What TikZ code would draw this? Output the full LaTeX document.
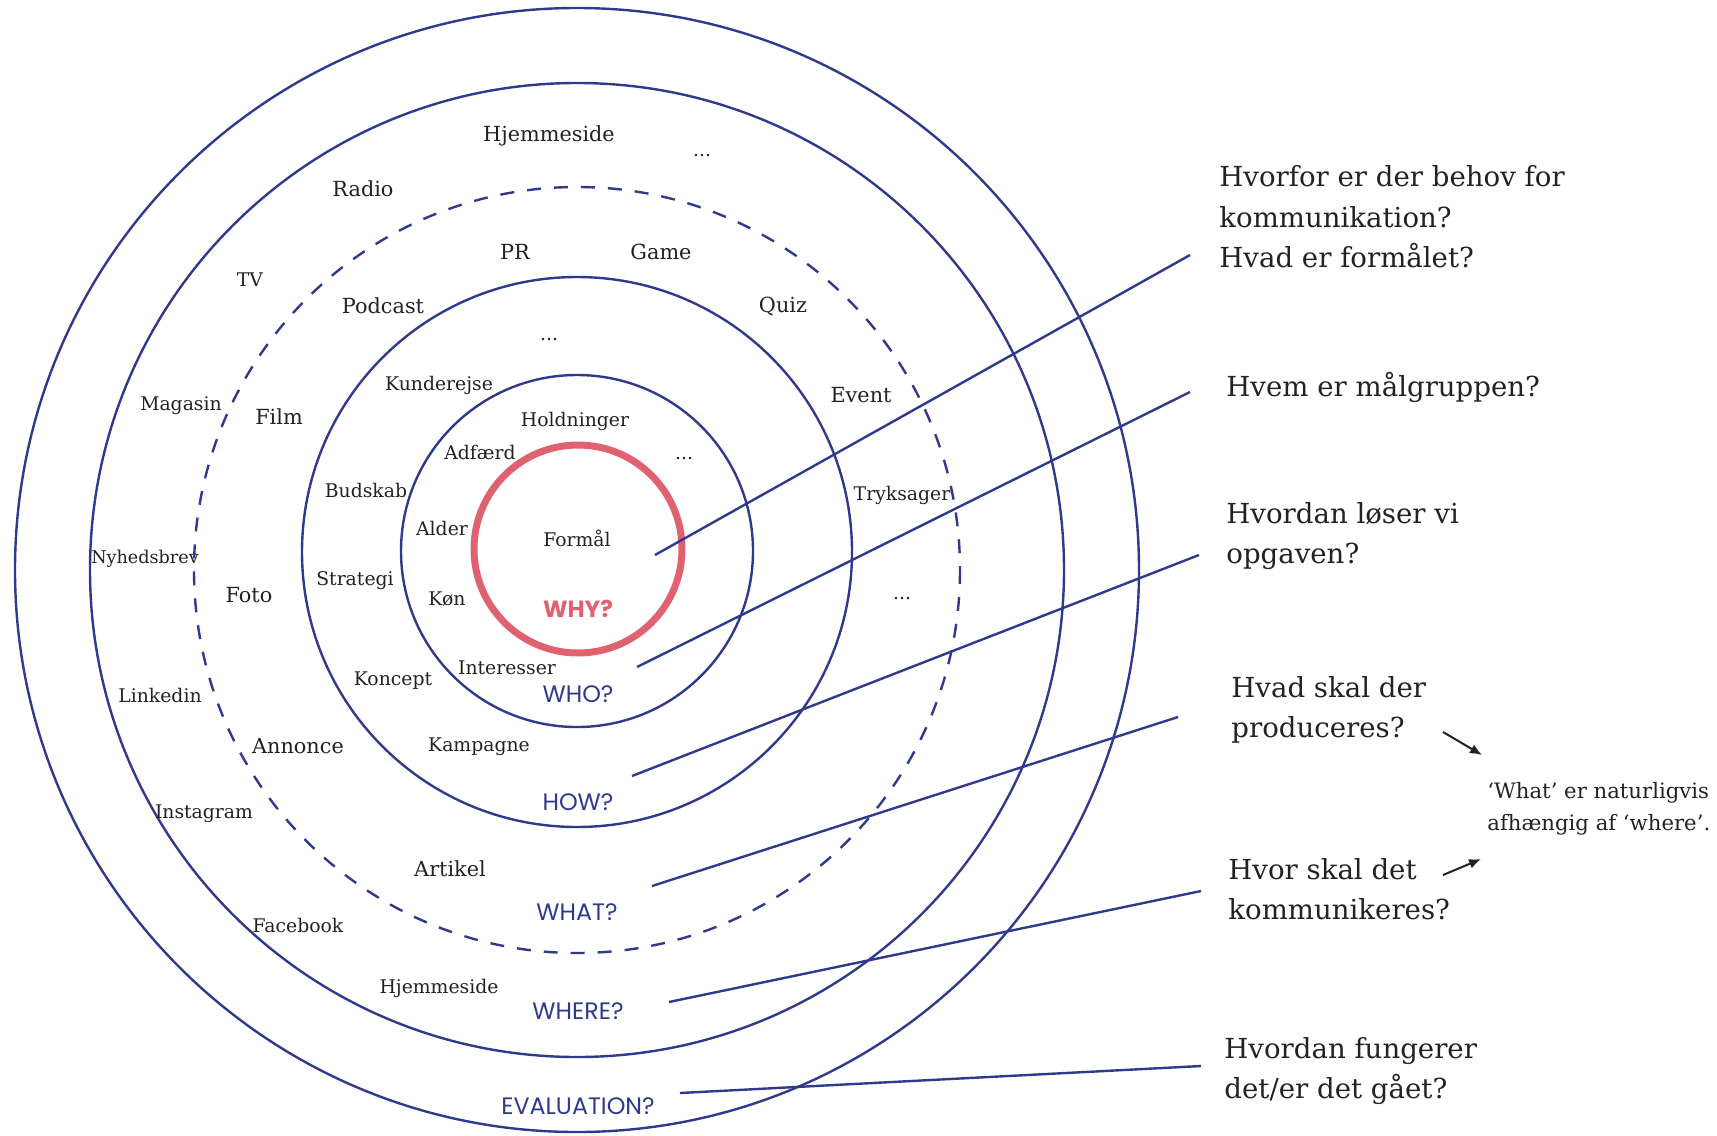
\documentclass[tikz,border=0pt]{standalone}
\usepackage{fontspec}
\setmainfont{DejaVu Serif}
\newfontfamily\askfont{Poppins}
\usetikzlibrary{arrows.meta}
\definecolor{ringblue}{RGB}{47,58,140}
\definecolor{whyred}{RGB}{224,98,112}
\definecolor{ink}{RGB}{34,34,34}
\tikzset{x=0.5pt,y=-0.5pt,
    ring/.style={draw=ringblue,line width=1.2pt},
    dashring/.style={ring,dash pattern=on 7pt off 6.5pt},
    whyring/.style={draw=whyred,line width=3.5pt},
    lab/.style={text=ink,inner sep=0pt,font=\fontsize{9.4}{10}\selectfont},
    biglab/.style={lab,font=\fontsize{10.4}{11}\selectfont},
    ask/.style={text=ringblue,inner sep=0pt,font=\askfont\fontsize{11.9}{13}\selectfont},
    question/.style={text=ink,anchor=west,align=left,inner sep=0pt,
        font=\fontsize{13.8}{20.3}\selectfont},
    note/.style={text=ink,anchor=west,align=left,inner sep=0pt,
        font=\fontsize{10.6}{16}\selectfont},
    link/.style={draw=ringblue,line width=1.2pt},
    }

\begin{document}
\begin{tikzpicture}
	\useasboundingbox (0,0) rectangle (1717,1135);
	% rings
	\draw[ring] (577,570) circle[radius=562];
	\draw[ring] (577,570) circle[radius=487];
	\draw[dashring] (577,570) circle[radius=383];
	\draw[ring] (577,552) circle[radius=275];
	\draw[ring] (577,551) circle[radius=176];
	\draw[whyring] (578,549) circle[radius=104];
	% WHY
	\node[lab] (formaal) at (577,538) {Formål};
	\node[ask,text=whyred,font=\askfont\bfseries\fontsize{11.7}{13}\selectfont] (why) at (578,609) {WHY?};
	% WHO
	\node[lab] (holdninger) at (575,421) {Holdninger};
	\node[lab] (adfaerd) at (480,452) {Adfærd};
	\node[lab] (whodots) at (684,459) {...};
	\node[lab] (alder) at (442,528) {Alder};
	\node[lab] (koen) at (447,599) {Køn};
	\node[lab] (interesser) at (507,668) {Interesser};
	\node[ask] (who) at (578,694) {WHO?};
	% HOW
	\node[lab] (howdots) at (549,340) {...};
	\node[lab] (kunderejse) at (439,385) {Kunderejse};
	\node[lab] (budskab) at (366,490) {Budskab};
	\node[lab] (strategi) at (355,581) {Strategi};
	\node[lab] (koncept) at (393,681) {Koncept};
	\node[lab] (kampagne) at (479,747) {Kampagne};
	\node[ask] (how) at (578,802) {HOW?};
	% WHAT
	\node[biglab] (pr) at (515,252) {PR};
	\node[biglab] (game) at (661,252) {Game};
	\node[biglab] (podcast) at (383,306) {Podcast};
	\node[biglab] (quiz) at (783,306) {Quiz};
	\node[biglab] (film) at (279,417) {Film};
	\node[biglab] (event) at (861,395) {Event};
	\node[lab] (tryksager) at (902,495) {Tryksager};
	\node[biglab] (foto) at (249,595) {Foto};
	\node[lab] (whatdots) at (902,599) {...};
	\node[biglab] (annonce) at (298,746) {Annonce};
	\node[biglab] (artikel) at (450,869) {Artikel};
	\node[ask] (what) at (577,912) {WHAT?};
	% WHERE
	\node[biglab] (hjemtop) at (549,136) {Hjemmeside};
	\node[lab] (wheredots) at (702,156) {...};
	\node[biglab] (radio) at (363,189) {Radio};
	\node[lab] (tv) at (250,280) {TV};
	\node[lab] (magasin) at (181,406) {Magasin};
	\node[lab,font=\fontsize{8.8}{10}\selectfont] (nyhedsbrev) at (145,559) {Nyhedsbrev};
	\node[lab] (linkedin) at (160,695) {Linkedin};
	\node[lab] (instagram) at (204,814) {Instagram};
	\node[lab] (facebook) at (298,925) {Facebook};
	\node[lab] (hjembund) at (439,988) {Hjemmeside};
	\node[ask] (where) at (578,1011) {WHERE?};
	% EVALUATION
	\node[ask] (evaluation) at (578,1106) {EVALUATION?};
	% questions
	\node[question] (qwhy) at (1219,217) {Hvorfor er der behov for\\kommunikation?\\Hvad er formålet?};
	\node[question] (qwho) at (1226,387) {Hvem er målgruppen?};
	\node[question] (qhow) at (1226,536) {Hvordan løser vi\\opgaven?};
	\node[question] (qwhat) at (1231,710) {Hvad skal der\\produceres?};
	\node[question] (qwhere) at (1228,889) {Hvor skal det\\kommunikeres?};
	\node[question] (qeval) at (1224,1071) {Hvordan fungerer\\det/er det gået?};
	\node[note] (depends) at (1487,809) {‘What’ er naturligvis\\afhængig af ‘where’.};
	% connectors
	\coordinate (whyin) at (655,555);   \coordinate (whyout) at (1190,255);
	\coordinate (whoin) at (637,667);   \coordinate (whoout) at (1190,392);
	\coordinate (howin) at (632,776);   \coordinate (howout) at (1199,555);
	\coordinate (whatin) at (652,886);  \coordinate (whatout) at (1178,717);
	\coordinate (wherein) at (669,1002); \coordinate (whereout) at (1201,891);
	\coordinate (evalin) at (680,1093); \coordinate (evalout) at (1201,1066);
	\draw[link] (whyin) -- (whyout);
	\draw[link] (whoin) -- (whoout);
	\draw[link] (howin) -- (howout);
	\draw[link] (whatin) -- (whatout);
	\draw[link] (wherein) -- (whereout);
	\draw[link] (evalin) -- (evalout);
	% arrows to the note
	\coordinate (whattail) at (1443,732); \coordinate (whattip) at (1482,755);
	\coordinate (wheretail) at (1443,875); \coordinate (wheretip) at (1481,859);
	\draw[ink,line width=1pt,-{Latex[length=6pt,width=5pt]}] (whattail) -- (whattip);
	\draw[ink,line width=1pt,-{Latex[length=6pt,width=5pt]}] (wheretail) -- (wheretip);
\end{tikzpicture}
\end{document}
